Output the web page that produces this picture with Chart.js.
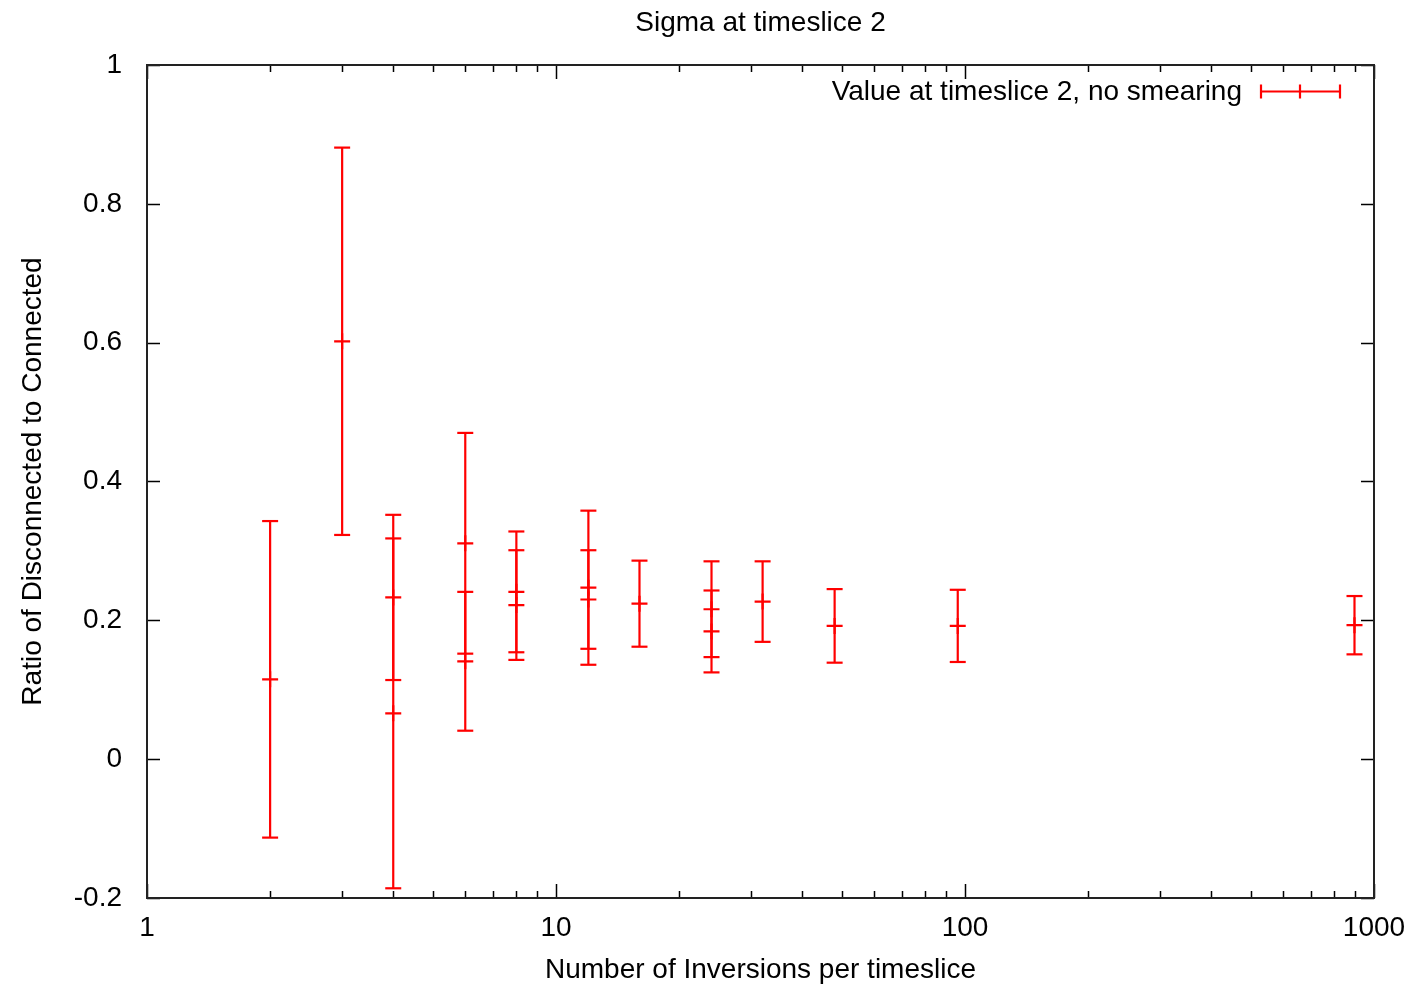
<!DOCTYPE html>
<html>
<head>
<meta charset="utf-8">
<script src="https://cdn.jsdelivr.net/npm/chart.js@4.4.1/dist/chart.umd.min.js"></script>
<style>
  body { margin: 0; background: #fff; }
</style>
</head>
<body>
<canvas id="myChart" width="1422" height="995"></canvas>
<script>
// Data: x position, central value, symmetric error
const inversions = [2, 3, 4, 4, 6, 6, 8, 8, 12, 12, 16, 24, 24, 32, 48, 96, 896];
const ratio = [0.115, 0.602, 0.233, 0.066, 0.311, 0.141, 0.241, 0.222, 0.247, 0.230, 0.224, 0.216, 0.184, 0.227, 0.192, 0.192, 0.193];
const error = [0.228, 0.279, 0.119, 0.252, 0.159, 0.100, 0.087, 0.079, 0.111, 0.071, 0.062, 0.069, 0.059, 0.058, 0.053, 0.052, 0.042];

const xTickLabels = [1, 10, 100, 1000];
const yTickLabels = [-0.2, 0, 0.2, 0.4, 0.6, 0.8, 1];

const chartTitle = 'Sigma at timeslice 2';
const seriesName = 'Value at timeslice 2, no smearing';

const red = '#ff0000';
const font = 'Liberation Sans, Arial, sans-serif';

// one line dataset per error bar, caps drawn as 'line' point style
let datasets = inversions.map((x, i) => ({
    type: 'line',
    data: [{x: x, y: ratio[i] - error[i]}, {x: x, y: ratio[i] + error[i]}],
    borderColor: red,
    borderWidth: 2.2,
    pointStyle: 'line',
    pointRadius: 8,
    pointBorderColor: red,
    pointBorderWidth: 2.2,
    fill: false,
}));

// centre values as crosses
datasets.push({
    type: 'scatter',
    data: inversions.map((x, i) => ({x: x, y: ratio[i]})),
    pointStyle: 'cross',
    pointRadius: 8,
    borderColor: red,
    pointBorderColor: red,
    pointBorderWidth: 2.2,
});

// gnuplot style frame, inward ticks, title and key
const gnuplotLook = {
    id: 'gnuplotLook',
    beforeDatasetsDraw(chart) {
        const ctx = chart.ctx;
        const a = chart.chartArea;
        const xs = chart.scales.x;
        const ys = chart.scales.y;
        ctx.save();
        ctx.strokeStyle = '#000';
        ctx.lineWidth = 1.5;
        ctx.beginPath();
        // x ticks, major and minor, bottom and top
        for (let d = 1; d < 1000; d *= 10) {
            for (let m = 1; m <= 10; m++) {
                const v = d * m;
                const px = Math.round(xs.getPixelForValue(v)) + 0.5;
                const len = (m === 1 || m === 10) ? 14 : 7;
                ctx.moveTo(px, a.bottom);
                ctx.lineTo(px, a.bottom - len);
                ctx.moveTo(px, a.top);
                ctx.lineTo(px, a.top + len);
            }
        }
        // y ticks, left and right
        yTickLabels.forEach(v => {
            const py = Math.round(ys.getPixelForValue(v)) + 0.5;
            ctx.moveTo(a.left, py);
            ctx.lineTo(a.left + 13, py);
            ctx.moveTo(a.right, py);
            ctx.lineTo(a.right - 13, py);
        });
        ctx.stroke();
        ctx.lineWidth = 2;
        ctx.strokeStyle = '#222';
        ctx.strokeRect(a.left, a.top, a.right - a.left, a.bottom - a.top);
        ctx.restore();
    },
    afterDraw(chart) {
        const ctx = chart.ctx;
        const a = chart.chartArea;
        ctx.save();
        ctx.fillStyle = '#000';
        ctx.font = '28px ' + font;
        ctx.textBaseline = 'middle';
        ctx.textAlign = 'center';
        ctx.fillText(chartTitle, (a.left + a.right) / 2, 23);

        // key: text then sample
        ctx.textAlign = 'right';
        ctx.fillText(seriesName, 1242, 92);
        const ky = 91.5;
        ctx.strokeStyle = red;
        ctx.lineWidth = 2.2;
        ctx.beginPath();
        ctx.moveTo(1261, ky);
        ctx.lineTo(1340, ky);
        ctx.moveTo(1261, ky - 7);
        ctx.lineTo(1261, ky + 7);
        ctx.moveTo(1340, ky - 7);
        ctx.lineTo(1340, ky + 7);
        ctx.moveTo(1300, ky - 7);
        ctx.lineTo(1300, ky + 7);
        ctx.stroke();
        ctx.restore();
    }
};

let myChart = document.getElementById('myChart').getContext('2d');

Chart.defaults.font.family = font;
Chart.defaults.font.size = 28;
Chart.defaults.color = '#000';

let errChart = new Chart(myChart, {
    type: 'scatter',
    data: { datasets: datasets },
    options: {
        responsive: false,
        animation: false,
        events: [],
        layout: {
            padding: { top: 65, right: 48, left: 0, bottom: 0 }
        },
        plugins: {
            legend: { display: false },
            title: { display: false },
            tooltip: { enabled: false }
        },
        scales: {
            x: {
                type: 'logarithmic',
                min: 1,
                max: 1000,
                grid: { display: false },
                border: { display: false },
                afterFit: s => { s.height = 97; },
                afterBuildTicks: s => { s.ticks = xTickLabels.map(v => ({value: v})); },
                ticks: {
                    autoSkip: false,
                    maxRotation: 0,
                    padding: 5,
                    callback: v => String(v)
                },
                title: {
                    display: true,
                    text: 'Number of Inversions per timeslice',
                    font: { size: 28 },
                    padding: { top: 0, bottom: 8 }
                }
            },
            y: {
                min: -0.2,
                max: 1,
                grid: { display: false },
                border: { display: false },
                afterFit: s => { s.width = 147; },
                afterBuildTicks: s => { s.ticks = yTickLabels.map(v => ({value: v})); },
                ticks: {
                    padding: 17,
                    callback: v => String(Math.round(v * 10) / 10)
                },
                title: {
                    display: true,
                    text: 'Ratio of Disconnected to Connected',
                    font: { size: 28 },
                    padding: { top: 16, bottom: 0 }
                }
            }
        }
    },
    plugins: [gnuplotLook]
});
</script>
</body>
</html>
